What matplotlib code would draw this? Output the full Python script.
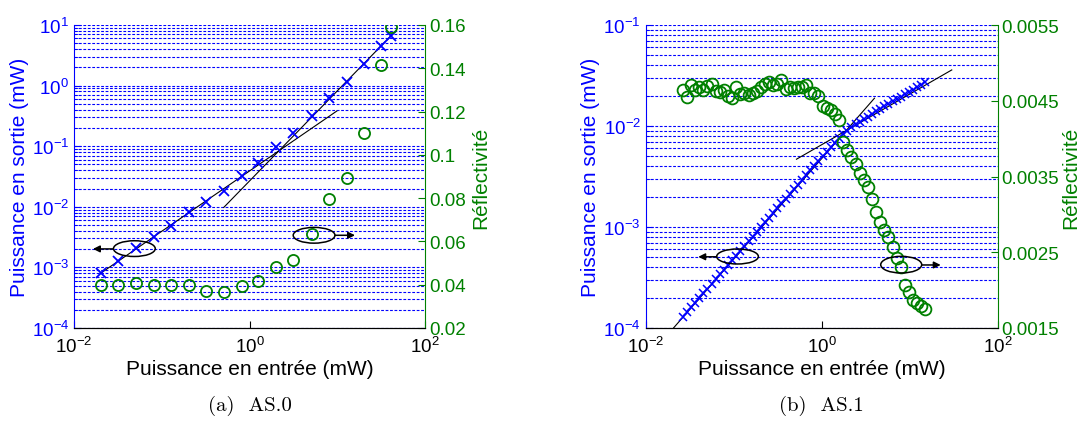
import numpy as np
import matplotlib
matplotlib.use("Agg")
import matplotlib.pyplot as plt
from matplotlib.patches import Ellipse
from matplotlib.ticker import LogLocator, NullLocator, FixedLocator, FuncFormatter

plt.rcParams['font.family'] = ['Liberation Sans', 'DejaVu Sans']
plt.rcParams['mathtext.default'] = 'regular'

BLUE = (0, 0, 1)
GREEN = (0, 0.5, 0)

# =========================
# 1. DATA
# =========================
# (a) AS.0
p_in_a = [0.0201, 0.0316, 0.051, 0.081, 0.127, 0.202, 0.318, 0.509, 0.817,
          1.26, 2.02, 3.17, 5.13, 8.15, 12.8, 20.3, 31.9, 40.8]
p_out_a = [8.1e-4, 1.27e-3, 2.09e-3, 3.2e-3, 4.9e-3, 8.2e-3, 0.0121, 0.0183, 0.032,
           0.053, 0.0955, 0.163, 0.319, 0.634, 1.14, 2.26, 4.55, 6.5]
refl_a = [0.0399, 0.0399, 0.041, 0.040, 0.040, 0.040, 0.0373, 0.0365, 0.0393,
          0.0419, 0.0481, 0.0514, 0.0634, 0.0797, 0.0892, 0.1099, 0.1415, 0.159]
# asymptotes: low-power fit and high-power fit
fit_a1_x = [0.0201, 9.9]
fit_a1_y = [8.0e-4, 0.381]
fit_a2_x = [0.509, 40.8]
fit_a2_y = [0.00977, 6.6]

# (b) AS.1
p_in_b = [0.0263, 0.0293, 0.0327, 0.0363, 0.0405, 0.0451, 0.0502, 0.0560, 0.0622, 0.0693,
          0.0773, 0.0861, 0.0959, 0.1067, 0.1189, 0.1324, 0.1476, 0.1644, 0.1828, 0.2037,
          0.2270, 0.2529, 0.2818, 0.3133, 0.3491, 0.3890, 0.4335, 0.4831, 0.5370, 0.5984,
          0.6668, 0.7430, 0.8279, 0.9204, 1.026, 1.143, 1.274, 1.419, 1.578, 1.758,
          1.959, 2.183, 2.432, 2.704, 3.013, 3.357, 3.741, 4.169, 4.634, 5.164,
          5.754, 6.412, 7.145, 7.943, 8.851, 9.863, 10.99, 12.25, 13.61, 15.17]
p_out_b = [1.29e-4, 1.44e-4, 1.60e-4, 1.78e-4, 1.98e-4, 2.21e-4, 2.46e-4, 2.74e-4, 3.05e-4, 3.40e-4,
           3.78e-4, 4.22e-4, 4.70e-4, 5.22e-4, 5.82e-4, 6.49e-4, 7.23e-4, 8.05e-4, 8.95e-4, 9.98e-4,
           1.11e-3, 1.24e-3, 1.38e-3, 1.53e-3, 1.71e-3, 1.91e-3, 2.12e-3, 2.37e-3, 2.63e-3, 2.93e-3,
           3.27e-3, 3.64e-3, 4.06e-3, 4.51e-3, 5.01e-3, 5.57e-3, 6.17e-3, 6.84e-3, 7.59e-3, 8.32e-3,
           9.02e-3, 9.70e-3, 1.04e-2, 1.10e-2, 1.17e-2, 1.24e-2, 1.32e-2, 1.40e-2, 1.48e-2, 1.57e-2,
           1.66e-2, 1.75e-2, 1.85e-2, 1.95e-2, 2.06e-2, 2.17e-2, 2.29e-2, 2.43e-2, 2.57e-2, 2.72e-2]
refl_b = [0.004646, 0.004545, 0.004708, 0.004646, 0.004677, 0.004646, 0.004699, 0.004721, 0.004633, 0.004619,
          0.004646, 0.004567, 0.004532, 0.004677, 0.004589, 0.004602, 0.004576, 0.004602, 0.004633, 0.004677,
          0.004721, 0.004743, 0.004708, 0.004721, 0.004778, 0.004655, 0.004677, 0.004664, 0.004677, 0.004677,
          0.004708, 0.004602, 0.004602, 0.00456, 0.00443, 0.00440, 0.00438, 0.00432, 0.00425, 0.00395,
          0.00385, 0.00376, 0.00366, 0.00355, 0.00346, 0.00336, 0.00320, 0.00303, 0.00290, 0.00280,
          0.00270, 0.00257, 0.00243, 0.00230, 0.00207, 0.00197, 0.00187, 0.00183, 0.00179, 0.00175]
fit_b1_x = [0.518, 30.2]
fit_b1_y = [4.69e-3, 0.0359]
fit_b2_x = [0.0207, 3.99]
fit_b2_y = [1e-4, 0.01884]

refl_ticks_a = [0.02, 0.04, 0.06, 0.08, 0.1, 0.12, 0.14, 0.16]
refl_ticks_b = [0.0015, 0.0025, 0.0035, 0.0045, 0.0055]


# =========================
# 2. PLOT HELPERS
# =========================
def setup_axes(ax, ylim, refl_ticks, right_pad):
    ax.set_xscale("log")
    ax.set_yscale("log")
    ax.set_xlim(1e-2, 1e2)
    ax.set_ylim(*ylim)
    ax.xaxis.set_major_locator(FixedLocator([1e-2, 1e0, 1e2]))
    ax.xaxis.set_minor_locator(NullLocator())
    ax.yaxis.set_major_locator(LogLocator(base=10))
    ax.yaxis.set_minor_locator(LogLocator(base=10, subs=np.arange(2, 10)))
    ax.yaxis.grid(True, which="both", color=BLUE, linestyle=(0, (2.5, 1.5)), linewidth=0.8)
    ax.tick_params(axis="both", which="both", direction="in", labelsize=13.5, top=False, right=False)
    ax.tick_params(axis="y", colors=BLUE, which="both")
    ax.tick_params(axis="x", colors="k", pad=6)
    ax.tick_params(which="major", length=5)
    ax.tick_params(which="minor", length=3)
    ax.spines["left"].set_color(BLUE)
    ax.spines["top"].set_visible(False)
    ax.spines["right"].set_visible(False)
    ax.set_xlabel("Puissance en entrée (mW)", fontsize=15, labelpad=2)
    ax.set_ylabel("Puissance en sortie (mW)", fontsize=15, color=BLUE, labelpad=2)

    ax2 = ax.twinx()
    ax2.set_ylim(refl_ticks[0], refl_ticks[-1])
    ax2.yaxis.set_major_locator(FixedLocator(refl_ticks))
    ax2.yaxis.set_major_formatter(FuncFormatter(lambda v, p: "%g" % v))
    ax2.tick_params(axis="y", direction="in", colors=GREEN, labelsize=13.5, length=5, pad=3)
    ax2.spines["right"].set_color(GREEN)
    ax2.spines["top"].set_visible(False)
    ax2.spines["left"].set_visible(False)
    ax2.set_ylabel("Réflectivité", fontsize=15, color=GREEN, labelpad=right_pad)
    return ax2


def add_marks(ax, ell_left, ell_right, arr_left, arr_right):
    for (cx, cy, w, h) in [ell_left, ell_right]:
        ax.add_patch(Ellipse((cx, cy), w, h, transform=ax.transAxes, fill=False,
                             edgecolor="k", linewidth=1.1, zorder=10))
    for (x0, x1, y) in [arr_left, arr_right]:
        ax.annotate("", xy=(x1, y), xytext=(x0, y), xycoords="axes fraction",
                    arrowprops=dict(arrowstyle="-|>", color="k", lw=1.1,
                                    mutation_scale=10, shrinkA=0, shrinkB=0))


fig = plt.figure(figsize=(10.81, 4.31), dpi=100)

# =========================
# 3. PANEL (a)
# =========================
ax_a = fig.add_axes([74 / 1081, 102 / 431, 351 / 1081, 303 / 431])
ax_a2 = setup_axes(ax_a, (1e-4, 1e1), refl_ticks_a, 4)
ax_a.plot(fit_a1_x, fit_a1_y, color="k", linewidth=0.8)
ax_a.plot(fit_a2_x, fit_a2_y, color="k", linewidth=0.8)
ax_a.plot(p_in_a, p_out_a, linestyle="none", marker="x", color=BLUE, markersize=7, markeredgewidth=1.3)
ax_a2.plot(p_in_a, refl_a, linestyle="none", marker="o", markersize=8, markerfacecolor="none",
           markeredgecolor=GREEN, markeredgewidth=1.3)
add_marks(ax_a2, (0.172, 0.262, 0.119, 0.052), (0.684, 0.306, 0.119, 0.052),
          (0.1115, 0.054, 0.261), (0.7436, 0.8006, 0.306))
fig.text((74 + 351 / 2) / 1081, 0.057, "(a)  AS.0", ha="center", va="center",
         fontsize=15, family=["cmr10", "DejaVu Serif"])

# =========================
# 4. PANEL (b)
# =========================
ax_b = fig.add_axes([645.7 / 1081, 102 / 431, 351.8 / 1081, 303 / 431])
ax_b2 = setup_axes(ax_b, (1e-4, 1e-1), refl_ticks_b, 1)
ax_b.plot(fit_b1_x, fit_b1_y, color="k", linewidth=0.8)
ax_b.plot(fit_b2_x, fit_b2_y, color="k", linewidth=0.8)
ax_b.plot(p_in_b, p_out_b, linestyle="none", marker="x", color=BLUE, markersize=6, markeredgewidth=1.1)
ax_b2.plot(p_in_b, refl_b, linestyle="none", marker="o", markersize=8.5, markerfacecolor="none",
           markeredgecolor=GREEN, markeredgewidth=1.3)
add_marks(ax_b2, (0.261, 0.236, 0.1185, 0.0495), (0.7263, 0.209, 0.1165, 0.055),
          (0.2018, 0.1495, 0.235), (0.7845, 0.8385, 0.208))
fig.text((645.7 + 351.8 / 2) / 1081, 0.057, "(b)  AS.1", ha="center", va="center",
         fontsize=15, family=["cmr10", "DejaVu Serif"])

fig.savefig("out.png", dpi=100)
